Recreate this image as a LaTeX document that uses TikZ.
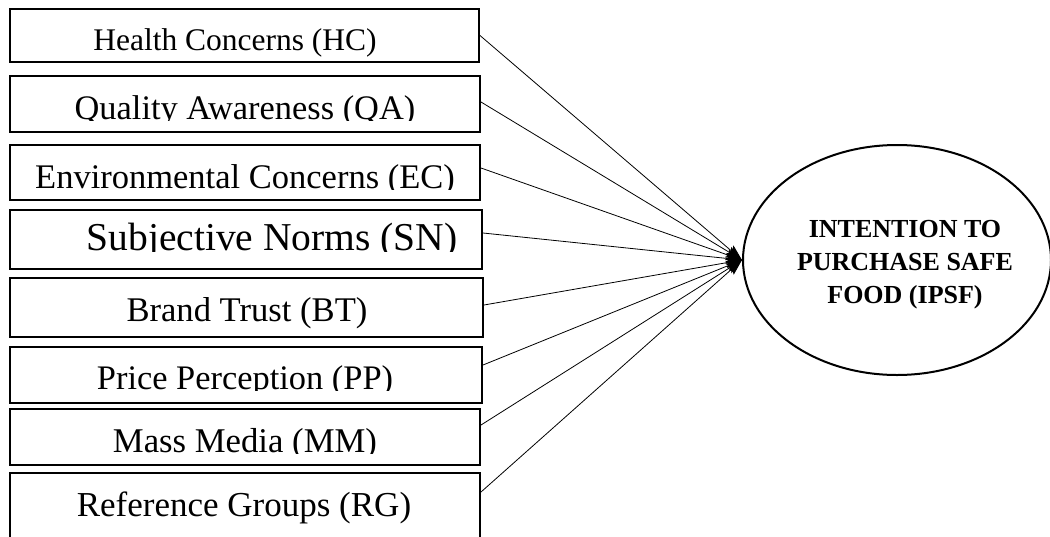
\documentclass[tikz,border=0pt]{standalone}
\usepackage{fontspec}
\setmainfont{Liberation Serif}
\usetikzlibrary{arrows.meta,shapes.geometric}
\tikzset{
  fbox/.style={draw, line width=2pt, inner sep=0pt, rectangle},
  boxtext/.style={anchor=base, inner sep=0pt},
  link/.style={line width=0.8pt, -{Stealth[length=16pt,width=11pt,inset=3pt]}},
  target/.style={draw, ellipse, line width=2pt, inner sep=0pt},
}
% name, left, top, right, bottom, clip-bottom, font size, text position, text
\newcommand\mkbox[9]{%
  \node[fbox, minimum width={(#4-#2)*1pt}, minimum height={(#5-#3)*1pt}] (#1) at ({(#2+#4)/2},{(#3+#5)/2}) {};
  \begin{scope}
    \clip (#2,#3) rectangle (#4,#6);
    \node[boxtext, font=\fontsize{#7}{#7}\selectfont] (#1t) at (#8) {#9};
  \end{scope}
}
\begin{document}
\begin{tikzpicture}[x=1pt,y=-1pt]
  \useasboundingbox (0,0) rectangle (1050,536);
  \clip (0,0) rectangle (1050,536);
  \mkbox{hc}{10}{9}{479}{62}{62}{31.5}{235,50}{Health Concerns (HC)}
  \mkbox{qa}{10}{76}{480}{132}{120}{34.4}{245,119}{Quality Awareness (QA)}
  \mkbox{ec}{10}{145}{480}{200}{189}{34.5}{245,188}{Environmental Concerns (EC)}
  \mkbox{sn}{10}{210}{482}{269}{251}{39.5}{272,250}{Subjective Norms (SN)}
  \mkbox{bt}{10}{278}{483}{337}{337}{34.6}{247,321}{Brand Trust (BT)}
  \mkbox{pp}{10}{347}{482}{403}{390}{34.4}{245,389}{Price Perception (PP)}
  \mkbox{mm}{10}{409}{480}{465}{453}{34.7}{245,452}{Mass Media (MM)}
  \mkbox{rg}{10}{473}{480}{560}{560}{35}{244,516}{Reference Groups (RG)}

  \node[target, minimum width=308pt, minimum height=230pt] (ipsf) at (897,260) {};
  \node[align=center, inner sep=0pt, font=\bfseries\fontsize{26}{33}\selectfont] (ipsft) at (905,265)
    {INTENTION TO\\PURCHASE SAFE\\FOOD (IPSF)};

  \draw[link] (hc.east) -- (ipsf.west);
  \draw[link] ([yshift=2pt]qa.east) -- (ipsf.west);
  \draw[link] ([yshift=4.5pt]ec.east) -- (ipsf.west);
  \draw[link] ([yshift=6.5pt]sn.east) -- (ipsf.west);
  \draw[link] ([yshift=2.5pt]bt.east) -- (ipsf.west);
  \draw[link] ([yshift=10pt]pp.east) -- (ipsf.west);
  \draw[link] ([yshift=12pt]mm.east) -- (ipsf.west);
  \draw[link] ([yshift=24.5pt]rg.east) -- (ipsf.west);
\end{tikzpicture}
\end{document}
